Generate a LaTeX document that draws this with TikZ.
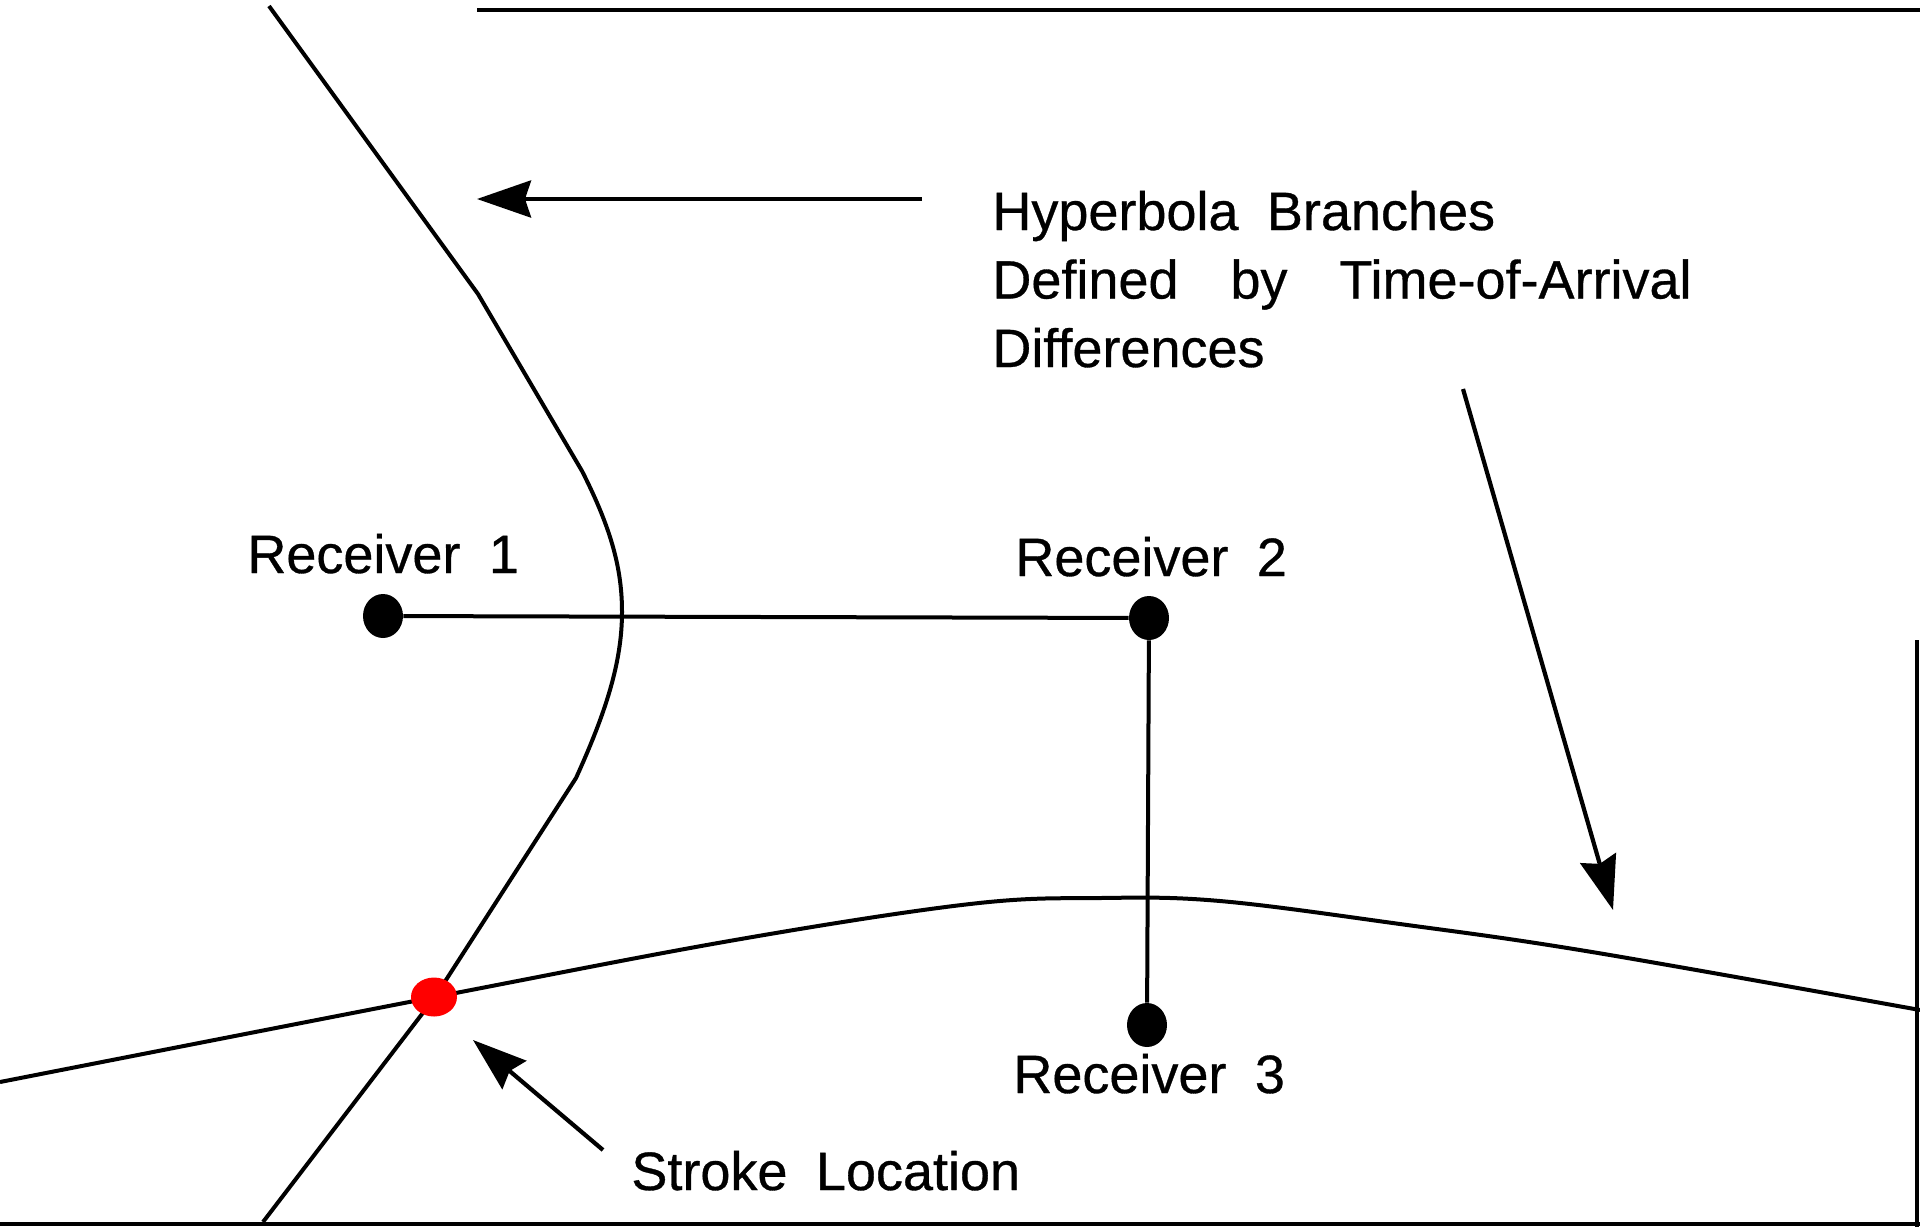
\documentclass[tikz,border=0pt]{standalone}
\usepackage{fontspec}
\setmainfont{Liberation Sans}[WordSpace=1.9,FakeBold=0.6]
\usetikzlibrary{arrows.meta,shapes.geometric}
\begin{document}
\begin{tikzpicture}[x=0.5pt,y=-0.5pt,
  curve/.style={line width=2pt, line join=round},
  link/.style={line width=2pt},
  pointer/.style={line width=2.1pt, -{Stealth[length=27pt,width=18.5pt,inset=3pt]}},
  frameline/.style={line width=1.7pt},
  rdot/.style={ellipse, fill=black, minimum width=20pt, minimum height=22pt, inner sep=0pt},
  sdot/.style={ellipse, fill=red, minimum width=23pt, minimum height=19.5pt, inner sep=0pt},
  lbl/.style={anchor=base west, inner sep=0pt, font=\fontsize{27pt}{34.25pt}\selectfont}
]
\useasboundingbox (0,0) rectangle (1920,1227);
% frame pieces
\coordinate (ft1) at (477,10);
\coordinate (ft2) at (1920,10);
\coordinate (fb1) at (0,1224);
\coordinate (fb2) at (1920,1224);
\coordinate (fr1) at (1917,640);
\coordinate (fr2) at (1917,1227);
\draw[frameline] (ft1) -- (ft2);
\draw[frameline] (fb1) -- (fb2);
\draw[frameline] (fr1) -- (fr2);

% hyperbola branches
\draw[curve] (269,6) -- (478,294) -- (582,471)
  .. controls (612,530) and (622,570) .. (622,612)
  .. controls (622,662) and (606,712) .. (576,778)
  -- (435,997) -- (263,1222);
\draw[curve] plot[smooth, tension=0.6] coordinates {(0,1082) (435,997) (735,940) (970,904) (1100,898) (1220,901) (1400,924) (1592,952) (1920,1010)};

% receivers
\node[rdot] (r1) at (383,616) {};
\node[rdot] (r2) at (1149,618) {};
\node[rdot] (r3) at (1147,1025) {};
\draw[link] (r1) -- (r2);
\draw[link] (r2) -- (r3);
\node[sdot] (s) at (434,997) {};

\node[lbl] (l1) at (247,573) {Receiver 1};
\node[lbl] (l2) at (1015,576) {Receiver 2};
\node[lbl] (l3) at (1013,1093) {Receiver 3};
\node[lbl] (ls) at (631,1190) {Stroke Location};
\node[lbl, align=left] (lh) at (992,367) {Hyperbola Branches\\Defined\hspace{26pt}by\hspace{26pt}Time-of-Arrival\\Differences};

% arrows
\coordinate (a1s) at (922,199);
\coordinate (a1e) at (477,199);
\coordinate (a2s) at (1463,389);
\coordinate (a2e) at (1613,910);
\coordinate (a3s) at (603,1150);
\coordinate (a3e) at (473,1040);
\draw[pointer] (a1s) -- (a1e);
\draw[pointer] (a2s) -- (a2e);
\draw[pointer] (a3s) -- (a3e);
\end{tikzpicture}
\end{document}
